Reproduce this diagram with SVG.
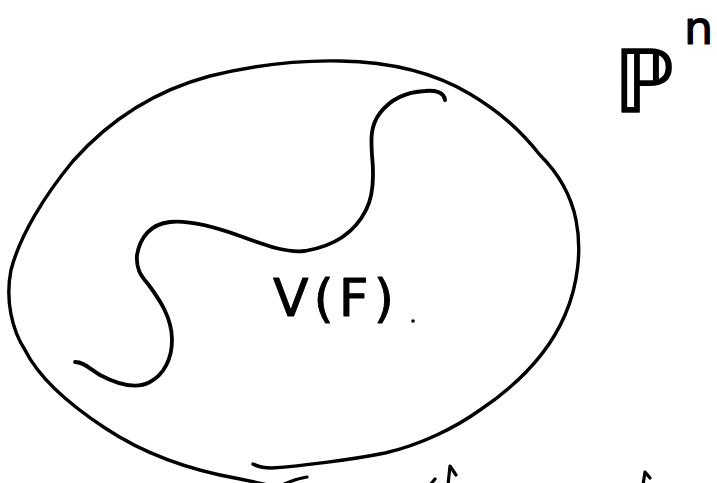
<svg xmlns="http://www.w3.org/2000/svg" width="717" height="483" viewBox="0 0 717 483">
  <style>
    .ink { fill: none; stroke: #000; stroke-linecap: round; stroke-linejoin: round; }
    .outer { stroke-width: 3.4; }
    .wave { stroke-width: 3.8; }
    .frag { stroke-width: 3.2; }
    .hand { font-family: "DejaVu Sans", "Liberation Sans", sans-serif; fill: #000; stroke: #000; stroke-linejoin: round; }
  </style>
  <rect width="717" height="483" fill="#fff"/>
  <g id="projective-space">
    <path class="ink outer" d="M253,464 Q260,468 272,468 C300,466 350,460 385,453 C420,445 455,428 480,410 C520,383 550,350 565,315 C578,285 582,250 576,220 C570,190 555,170 540,155 C520,130 500,112 470,94 C440,76 400,62 340,61 C290,60 250,66 210,76 C150,92 105,125 73,161 C45,195 20,235 11,270 C5,300 12,330 25,350 C40,380 70,405 105,428 C150,458 200,472 240,479 C255,482 265,484 275,487"/>
    <g id="label-Pn">
      <text class="hand" x="614" y="112" font-size="86" stroke-width="1.6">ℙ</text>
      <text class="hand" x="684" y="44" font-size="46" stroke-width="1.2">n</text>
    </g>
  </g>
  <g id="variety">
    <path class="ink wave" d="M445,100 C444,92 435,90 425,91 C405,92 390,100 380,113 C370,126 371,140 372,155 C374,175 374,195 366,210 C355,232 335,246 305,251 C285,253 265,245 240,236 C215,227 190,220 170,222 C150,224 140,238 137,255 C136,268 140,275 148,284 C160,300 172,318 172,340 C172,360 163,375 150,382 C135,390 115,383 100,375 C90,369 84,362 75,362"/>
    <text class="hand" x="273" y="316" font-size="52" stroke-width="0.9" textLength="121" lengthAdjust="spacing">V(F)</text>
    <circle cx="413" cy="321" r="1.8" fill="#000"/>
  </g>
  <g id="bottom-fragments">
    <path class="ink frag" d="M282,485 Q295,479 307,477"/>
    <path class="ink frag" d="M430,485 L435,479"/>
    <path class="ink frag" d="M448,485 L450,466 L456,475"/>
    <path class="ink frag" d="M643,485 L645,472 L650,478"/>
  </g>
</svg>
